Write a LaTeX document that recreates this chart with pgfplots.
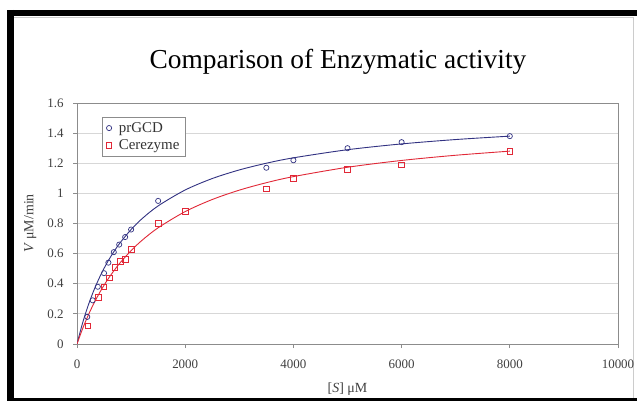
\documentclass[border=0pt]{standalone}
\usepackage{fontspec}
\setmainfont{Liberation Serif}
\usepackage{pgfplots}
\pgfplotsset{compat=1.18}
\definecolor{gcdblue}{RGB}{50,50,130}
\definecolor{cerred}{RGB}{225,40,55}
\definecolor{gridgray}{RGB}{215,215,215}
\definecolor{axgray}{RGB}{140,140,140}
\begin{document}
\begin{tikzpicture}
\clip (0,0) rectangle (637bp,401bp);
\fill[white] (0,0) rectangle (637bp,401bp);
\draw[line width=6bp] (10.5bp,387.5bp) -- (700bp,387.5bp);
\draw[line width=7bp] (10.5bp,391bp) -- (10.5bp,-5bp);
\draw[line width=4bp] (7bp,1bp) -- (700bp,1bp);
\draw[gray!40, line width=0.8bp] (14bp,383.8bp) -- (633bp,383.8bp) -- (633bp,3bp);
\node at (338bp,339bp) {\fontsize{27.5}{30}\selectfont Comparison of Enzymatic activity};
\begin{axis}[
  at={(77bp,57bp)}, anchor=south west,
  scale only axis, width=541bp, height=241bp,
  xmin=0, xmax=10000, ymin=0, ymax=1.6,
  xtick={0,2000,...,10000}, ytick={0,0.2,...,1.6},
  ymajorgrids, grid style={gridgray, line width=0.8bp},
  axis line style={axgray, line width=0.8bp},
  tick style={axgray, line width=0.8bp},
  tick align=outside, major tick length=4bp,
  xtick pos=bottom, ytick pos=left,
  scaled x ticks=false,
  /pgf/number format/.cd, fixed, 1000 sep={}, assume math mode=true,
  /pgfplots/.cd,
  ticklabel style={font=\fontsize{13}{15}\selectfont, text=black!75},
  xticklabel style={yshift=-8bp},
  yticklabel style={xshift=-6bp},
  xlabel={[\textit{S}] μM}, ylabel={\textit{V} μM/min},
  label style={font=\fontsize{14}{16}\selectfont, text=black!75},
  xlabel style={yshift=-8bp},
  ylabel style={yshift=4bp},
  legend style={at={(0.046,0.942)}, anchor=north west, draw=axgray, line width=0.8bp,
    font=\fontsize{15}{18}\selectfont, text=black!80, row sep=2bp, inner xsep=4bp, inner ysep=3bp,
    /tikz/every odd column/.append style={column sep=5bp}},
  legend cell align=left,
]
\addplot[only marks, mark=o, mark size=2.6bp, draw=gcdblue, line width=0.7bp]
  coordinates {(190,0.18)(290,0.29)(385,0.38)(500,0.47)(580,0.54)(680,0.61)(780,0.66)(890,0.71)(1000,0.76)(1500,0.95)(3500,1.17)(4000,1.22)(5000,1.30)(6000,1.34)(8000,1.38)};
\addlegendentry{prGCD}
\addplot[only marks, mark=square, mark size=2.8bp, draw=cerred, line width=0.8bp]
  coordinates {(200,0.12)(400,0.31)(500,0.38)(600,0.44)(700,0.51)(800,0.55)(900,0.56)(1000,0.63)(1500,0.80)(2000,0.88)(3500,1.03)(4000,1.10)(5000,1.16)(6000,1.19)(8000,1.28)};
\addlegendentry{Cerezyme}
\addplot[gcdblue, line width=0.9bp, smooth, forget plot]
  coordinates {(0,0)(100,0.1352)(200,0.2489)(300,0.3458)(400,0.4294)(500,0.5023)(600,0.5663)(700,0.6230)(800,0.6736)(1000,0.7601)(1200,0.8312)(1500,0.9170)(2000,1.0226)(2500,1.0985)(3000,1.1556)(3500,1.2002)(4000,1.2360)(5000,1.2898)(6000,1.3284)(7000,1.3574)(8000,1.3800)};
\addplot[cerred, line width=0.9bp, smooth, forget plot]
  coordinates {(0,0)(100,0.0984)(200,0.1847)(300,0.2611)(400,0.3292)(500,0.3902)(600,0.4452)(700,0.4951)(800,0.5405)(1000,0.6201)(1200,0.6877)(1500,0.7717)(2000,0.8792)(2500,0.9593)(3000,1.0214)(3500,1.0709)(4000,1.1113)(5000,1.1733)(6000,1.2186)(7000,1.2531)(8000,1.2803)};
\end{axis}
\end{tikzpicture}
\end{document}
